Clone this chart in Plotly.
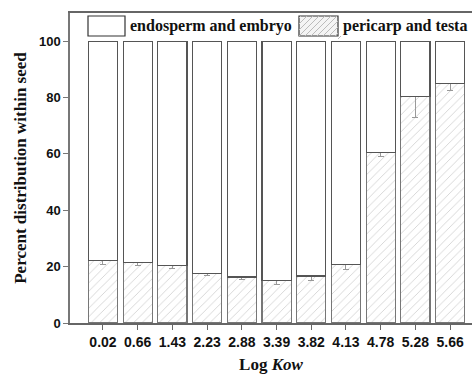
import plotly.graph_objects as go

categories = ["0.02", "0.66", "1.43", "2.23", "2.88", "3.39", "3.82", "4.13", "4.78", "5.28", "5.66"]
pericarp = [22.3, 21.5, 20.5, 17.7, 16.3, 15.2, 16.7, 20.9, 60.6, 80.5, 85.0]
pericarp_err = [1.5, 1.0, 1.0, 1.0, 1.0, 1.5, 1.5, 2.0, 1.5, 7.5, 2.5]
endosperm = [100 - p for p in pericarp]
legend_labels = ["endosperm and embryo", "pericarp and testa"]

fig = go.Figure()
fig.add_trace(go.Bar(
    x=categories, y=pericarp, name=legend_labels[1], showlegend=False,
    marker=dict(color="white", line=dict(color="#777", width=1.2),
                pattern=dict(shape="/", fgcolor="#aaa", size=6, solidity=0.15)),
    error_y=dict(type="data", array=pericarp_err, visible=True, color="#999", thickness=1, width=3),
    width=0.84,
))
fig.add_trace(go.Bar(
    x=categories, y=endosperm, name=legend_labels[0], showlegend=False,
    marker=dict(color="white", line=dict(color="#555", width=1.2)),
    width=0.84,
))

# custom legend (large swatches like the original)
W, H = 472, 378
ml, mr, mt, mb = 70, 0, 13, 55
pw, ph = W - ml - mr, H - mt - mb
def px(x):
    return (x - ml) / pw
def py(y):
    return 1 - (y - mt) / ph

shapes = [
    dict(type="rect", xref="paper", yref="paper", x0=px(88), x1=px(125), y0=py(36), y1=py(16),
         line=dict(color="#333", width=1.2), fillcolor="white"),
    dict(type="rect", xref="paper", yref="paper", x0=px(299), x1=px(338), y0=py(36), y1=py(16),
         line=dict(color="#333", width=1.2), fillcolor="#f4f4f4"),
]
for k in range(-3, 8):
    xa = 299 + k * 6
    shapes.append(dict(type="line", xref="paper", yref="paper",
                       x0=px(max(xa, 299)), y0=py(36 - max(0, 299 - xa)),
                       x1=px(min(xa + 20, 338)), y1=py(16 + max(0, xa + 20 - 338)),
                       line=dict(color="#bbb", width=1)))
annotations = [
    dict(text="<b>" + legend_labels[0] + "</b>", xref="paper", yref="paper", x=px(128), y=py(26),
         xanchor="left", yanchor="middle", showarrow=False, font=dict(size=16)),
    dict(text="<b>" + legend_labels[1] + "</b>", xref="paper", yref="paper", x=px(341), y=py(26),
         xanchor="left", yanchor="middle", showarrow=False, font=dict(size=16)),
]

fig.update_layout(
    barmode="stack",
    width=W, height=H,
    margin=dict(l=ml, r=mr, t=mt, b=mb),
    plot_bgcolor="white", paper_bgcolor="white",
    font=dict(family="Liberation Serif", color="#111", size=14),
    shapes=shapes, annotations=annotations,
    bargap=0.16,
)
fig.update_xaxes(
    title=dict(text="<b>Log <i>Kow</i></b>", font=dict(size=17), standoff=10),
    range=[-0.95, 10.63],
    showline=True, linecolor="#666", linewidth=1.5, mirror=True,
    ticks="outside", ticklen=5, tickcolor="#666",
    tickfont=dict(family="Liberation Sans", size=14, weight="bold"),
)
fig.update_yaxes(
    title=dict(text="<b>Percent distribution within seed</b>", font=dict(size=17), standoff=8),
    range=[0, 110], tickvals=[0, 20, 40, 60, 80, 100],
    showline=True, linecolor="#777", linewidth=1.5,
    ticks="outside", ticklen=5, tickcolor="#777",
    showgrid=False, zeroline=False,
    tickfont=dict(family="Liberation Sans", size=13, weight="bold"),
)
fig.write_html("out.html")
